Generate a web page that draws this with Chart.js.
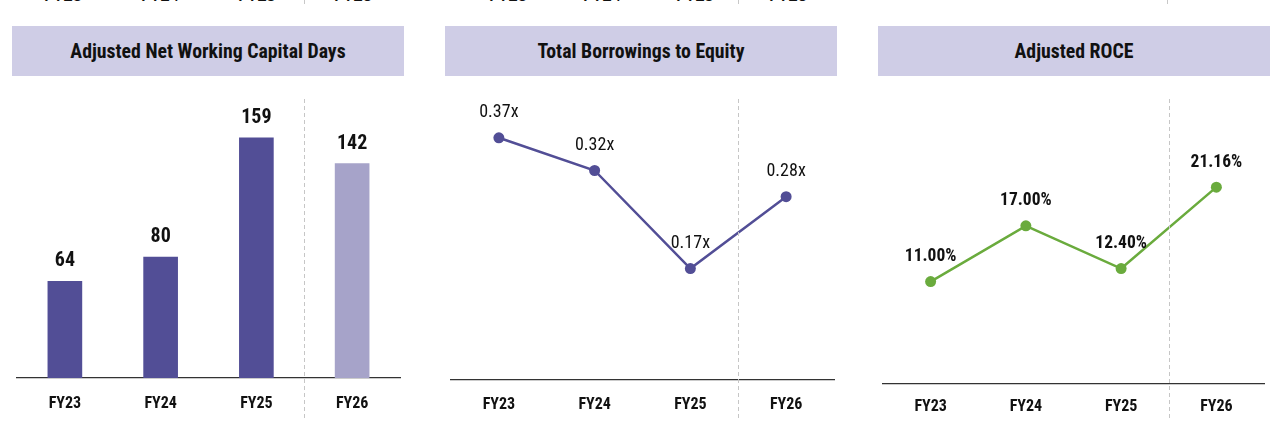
<!DOCTYPE html>
<html>
<head>
<meta charset="utf-8">
<script src="https://cdn.jsdelivr.net/npm/chart.js@4.4.1/dist/chart.umd.min.js"></script>
<style>
  html, body { margin: 0; padding: 0; background: #ffffff; overflow: hidden; }
  body { width: 1288px; height: 431px; position: relative; }
  .title {
    position: absolute; top: 26px; height: 50px; background: #cfcde6;
    display: flex; align-items: center; justify-content: center;
    font-family: 'Liberation Sans Narrow', 'Roboto Condensed', 'DejaVu Sans Condensed', Lato, sans-serif;
    font-weight: bold; font-size: 19.8px; color: #111;
  }
  canvas.c { position: absolute; top: 0; }
  .prev { position: absolute; top: -13px; font-family: 'Liberation Sans Narrow', Lato, sans-serif;
    font-weight: bold; font-size: 16px; line-height: 16px; color: #111; transform: translateX(-50%); }
  .prevdash { position: absolute; top: 0; height: 4px; border-left: 1px dashed #c8c8c8; }
</style>
</head>
<body>
<div id="prevRow"></div>
<div class="title" style="left:12px;width:392px;">Adjusted Net Working Capital Days</div>
<div class="title" style="left:445px;width:392px;">Total Borrowings to Equity</div>
<div class="title" style="left:878px;width:392px;">Adjusted ROCE</div>
<canvas class="c" id="c1" style="left:0px" width="420" height="431"></canvas>
<canvas class="c" id="c2" style="left:430px" width="430" height="431"></canvas>
<canvas class="c" id="c3" style="left:860px" width="428" height="431"></canvas>
<script>
// ---- Data ----
const categories = ['FY23', 'FY24', 'FY25', 'FY26'];
const nwcDays = [64, 80, 159, 142];
const borrowingsToEquity = [0.37, 0.32, 0.17, 0.28];
const adjustedRoce = [11.00, 17.00, 12.40, 21.16];
// cut-off axis labels from the row above (only their bottoms show)
const prevRowLabels = ['FY23', 'FY24', 'FY25', 'FY26'];

const FONT = "'Liberation Sans Narrow', 'Roboto Condensed', 'DejaVu Sans Condensed', Lato, sans-serif";
const DARK = '#524e96';
const LIGHT = '#a6a3c9';
const GREEN = '#6aab3d';

// previous row labels (HTML text)
(function () {
  const host = document.getElementById('prevRow');
  const groups = [[63, 160, 257, 353], [508, 602, 695, 788]];
  groups.forEach(g => g.forEach((x, i) => {
    const s = document.createElement('span');
    s.className = 'prev'; s.style.left = x + 'px'; s.textContent = prevRowLabels[i];
    host.appendChild(s);
  }));
  [304, 738, 1167].forEach(x => {
    const d = document.createElement('div'); d.className = 'prevdash'; d.style.left = x + 'px';
    host.appendChild(d);
  });
})();

const dividerPlugin = {
  id: 'divider',
  afterDraw(chart) {
    const xs = chart.scales.x;
    const x = Math.round((xs.getPixelForValue(2) + xs.getPixelForValue(3)) / 2) + 0.5;
    const ctx = chart.ctx;
    ctx.save();
    ctx.strokeStyle = '#c6c6c6';
    ctx.lineWidth = 1;
    ctx.setLineDash([4, 3]);
    ctx.beginPath();
    ctx.moveTo(x, 99);
    ctx.lineTo(x, 419);
    ctx.stroke();
    ctx.restore();
  }
};

const labelPlugin = {
  id: 'valueLabels',
  afterDatasetsDraw(chart, args, opts) {
    const ctx = chart.ctx;
    const meta = chart.getDatasetMeta(0);
    const data = chart.data.datasets[0].data;
    ctx.save();
    ctx.font = opts.font;
    ctx.fillStyle = '#111';
    ctx.textAlign = 'center';
    ctx.textBaseline = 'middle';
    meta.data.forEach((el, i) => {
      ctx.fillText(opts.format(data[i]), el.x, el.y - opts.offset);
    });
    ctx.restore();
  }
};

function xAxis(pad) {
  return {
    grid: { display: false, drawTicks: false },
    border: { display: true, color: '#333333', width: 1.2 },
    ticks: { color: '#111', padding: pad, font: { family: FONT, size: 16, weight: 'bold' } }
  };
}

Chart.defaults.animation = false;

new Chart(document.getElementById('c1'), {
  type: 'bar',
  data: {
    labels: categories,
    datasets: [{ data: nwcDays, backgroundColor: [DARK, DARK, DARK, LIGHT], barThickness: 34 }]
  },
  options: {
    responsive: false,
    layout: { padding: { left: 17, right: 20, top: 91, bottom: 1.8 } },
    plugins: {
      legend: { display: false }, tooltip: { enabled: false },
      valueLabels: { font: 'bold 20px ' + FONT, offset: 20, format: v => String(v) }
    },
    scales: { x: xAxis(16), y: { display: false, min: 0, max: 190 } }
  },
  plugins: [labelPlugin, dividerPlugin]
});

new Chart(document.getElementById('c2'), {
  type: 'line',
  data: {
    labels: categories,
    datasets: [{ data: borrowingsToEquity, borderColor: DARK, backgroundColor: DARK,
      borderWidth: 2.5, pointRadius: 5.5, pointBackgroundColor: DARK, pointBorderWidth: 0 }]
  },
  options: {
    responsive: false,
    layout: { padding: { left: 21, right: 26, top: 92, bottom: 0 } },
    plugins: {
      legend: { display: false }, tooltip: { enabled: false },
      valueLabels: { font: '18px ' + FONT, offset: 25, format: v => v.toFixed(2) + 'x' }
    },
    scales: { x: Object.assign(xAxis(16), { offset: true }), y: { display: false, min: 0, max: 0.44 } }
  },
  plugins: [labelPlugin, dividerPlugin]
});

new Chart(document.getElementById('c3'), {
  type: 'line',
  data: {
    labels: categories,
    datasets: [{ data: adjustedRoce, borderColor: GREEN, backgroundColor: GREEN,
      borderWidth: 2.5, pointRadius: 5.5, pointBackgroundColor: GREEN, pointBorderWidth: 0 }]
  },
  options: {
    responsive: false,
    layout: { padding: { left: 23, right: 24, top: 105, bottom: 0 } },
    plugins: {
      legend: { display: false }, tooltip: { enabled: false },
      valueLabels: { font: 'bold 17.5px ' + FONT, offset: 25, format: v => v.toFixed(2) + '%' }
    },
    scales: { x: Object.assign(xAxis(14), { offset: true }), y: { display: false, min: 0, max: 30 } }
  },
  plugins: [labelPlugin, dividerPlugin]
});
</script>
</body>
</html>
